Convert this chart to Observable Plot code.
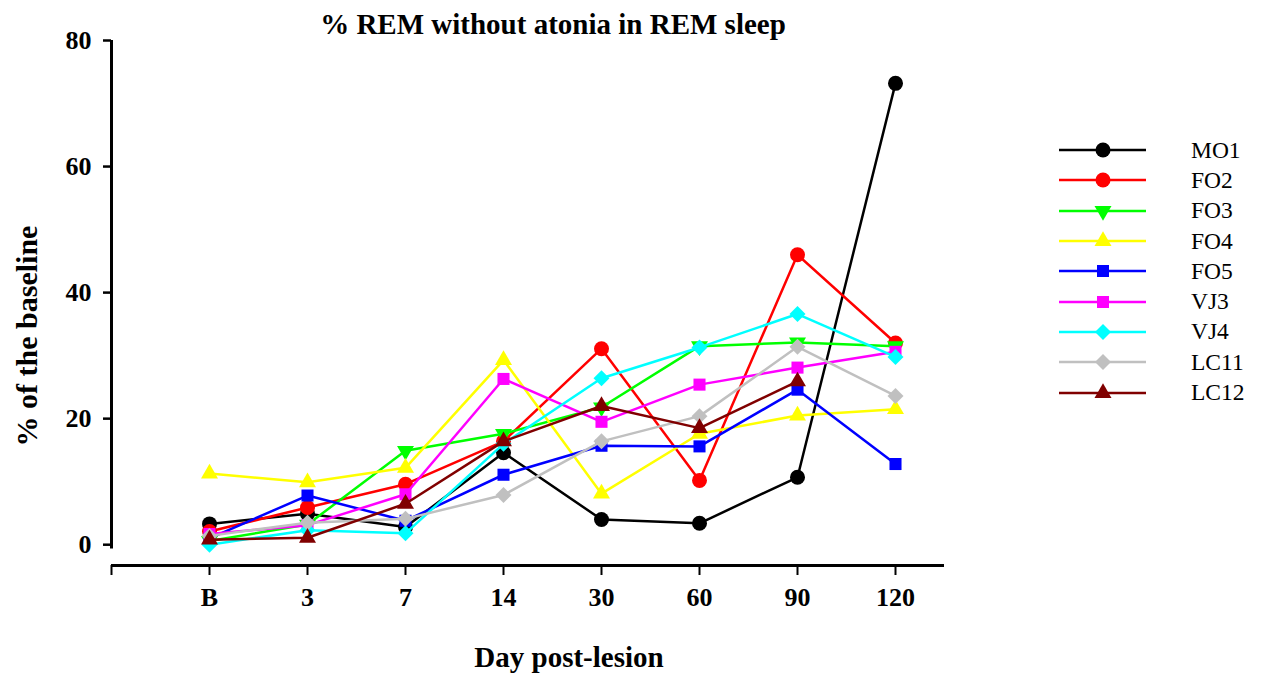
<!DOCTYPE html>
<html>
<head>
<meta charset="utf-8">
<script src="https://cdn.jsdelivr.net/npm/d3@7"></script>
<script src="https://cdn.jsdelivr.net/npm/@observablehq/plot@0.6"></script>
<style>
  html, body { margin: 0; padding: 0; background: #fff; }
  #wrap { position: relative; width: 1261px; height: 673px; font-family: "Liberation Serif", "Times New Roman", serif; }
  #wrap svg { position: absolute; left: 0; top: 0; }
  .lbl { position: absolute; font-weight: bold; font-size: 29px; line-height: 34px; white-space: nowrap; color: #000; }
  #legend { position: absolute; left: 1058px; top: 135px; }
  .row { display: flex; align-items: center; height: 30.3px; }
  .row span { margin-left: 43px; font-size: 23.5px; }
</style>
</head>
<body>
<div id="wrap"></div>
<script>
// ---- data ----
const days = ["B", "3", "7", "14", "30", "60", "90", "120"];
const seriesNames = ["MO1", "FO2", "FO3", "FO4", "FO5", "VJ3", "VJ4", "LC11", "LC12"];
const MO1  = [3.3, 4.9, 2.8, 14.6, 4.0, 3.4, 10.7, 73.2];
const FO2  = [2.1, 5.9, 9.6, 16.4, 31.1, 10.2, 46.0, 32.0];
const FO3  = [0.6, 3.2, 14.9, 17.6, 21.8, 31.5, 32.1, 31.5];
const FO4  = [11.3, 9.9, 12.2, 29.3, 8.1, 17.6, 20.5, 21.5];
const FO5  = [1.0, 7.8, 3.8, 11.1, 15.7, 15.6, 24.6, 12.8];
const VJ3  = [1.7, 3.1, 8.0, 26.3, 19.5, 25.4, 28.1, 30.6];
const VJ4  = [0.0, 2.3, 1.8, 16.0, 26.4, 31.3, 36.6, 29.8];
const LC11 = [1.4, 3.5, 4.1, 7.9, 16.4, 20.4, 31.4, 23.6];
const LC12 = [0.8, 1.1, 6.5, 16.4, 22.0, 18.5, 25.9, null];
const yTicks = [0, 20, 40, 60, 80];
const colors = ["#000000", "#ff0000", "#00ff00", "#ffff00", "#0000ff", "#ff00ff", "#00ffff", "#c0c0c0", "#800000"];
const symbolNames = ["circle", "circle", "triangleDown", "triangle", "square", "square", "diamond2", "diamond2", "triangle"];
const symbolR = { circle: 7.5, triangle: 6.3, triangleDown: 6.3, square: 6.8, diamond2: 7.2 };

const values = [MO1, FO2, FO3, FO4, FO5, VJ3, VJ4, LC11, LC12];

// custom downward triangle
const sqrt3 = Math.sqrt(3);
const triangleDown = {
  draw(context, size) {
    const y = -Math.sqrt(size / (sqrt3 * 3));
    context.moveTo(0, -y * 2);
    context.lineTo(-sqrt3 * y, y);
    context.lineTo(sqrt3 * y, y);
    context.closePath();
  }
};
const symFor = (n) => n === "triangleDown" ? triangleDown : n;

const marks = [];
// axis lines
marks.push(Plot.ruleX([0], { y1: -0.7, y2: 80, stroke: "#000", strokeWidth: 3 }));
marks.push(Plot.ruleY([-3.3], { x1: 0, x2: 8.5, stroke: "#000", strokeWidth: 3 }));
marks.push(Plot.axisY({ ticks: yTicks, tickSize: 8, tickPadding: 12, strokeWidth: 2.5, fontSize: 26, fontWeight: "bold", label: null }));
marks.push(Plot.axisX({ ticks: d3.range(0, 9), tickFormat: (i) => (i >= 1 ? days[i - 1] : ""), tickSize: 10, tickPadding: 12, strokeWidth: 2, fontSize: 26, fontWeight: "bold", label: null }));

seriesNames.forEach((name, s) => {
  const data = days.map((d, i) => ({ x: i + 1, y: values[s][i] })).filter((d) => d.y != null);
  marks.push(Plot.line(data, { x: "x", y: "y", stroke: colors[s], strokeWidth: 2.5 }));
  marks.push(Plot.dot(data, { x: "x", y: "y", fill: colors[s], stroke: "none", symbol: symFor(symbolNames[s]), r: symbolR[symbolNames[s]] }));
});

const chart = Plot.plot({
  width: 1261,
  height: 673,
  marginLeft: 111,
  marginRight: 317,
  marginTop: 40,
  marginBottom: 108,
  x: { type: "linear", domain: [0, 8.5] },
  y: { domain: [-3.3, 80] },
  style: { fontFamily: "'Liberation Serif', 'Times New Roman', serif", fontWeight: "bold", fontSize: "26px", background: "transparent", overflow: "visible" },
  marks
});

const wrap = document.getElementById("wrap");
wrap.appendChild(chart);

// title & axis labels
const title = document.createElement("div");
title.className = "lbl";
title.textContent = "% REM without atonia in REM sleep";
title.style.left = "553px"; title.style.top = "7px"; title.style.transform = "translateX(-50%)";
wrap.appendChild(title);

const xl = document.createElement("div");
xl.className = "lbl";
xl.textContent = "Day post-lesion";
xl.style.left = "569px"; xl.style.top = "640px"; xl.style.transform = "translateX(-50%)";
wrap.appendChild(xl);

const yl = document.createElement("div");
yl.className = "lbl";
yl.style.fontSize = "30px";
yl.textContent = "% of the baseline";
yl.style.left = "27px"; yl.style.top = "336px"; yl.style.transform = "translate(-50%, -50%) rotate(-90deg)";
wrap.appendChild(yl);

// legend
const legend = document.createElement("div");
legend.id = "legend";
seriesNames.forEach((name, s) => {
  const row = document.createElement("div");
  row.className = "row";
  const svg = d3.create("svg").attr("width", 90).attr("height", 24).style("position", "static");
  svg.append("line").attr("x1", 1).attr("x2", 88).attr("y1", 12).attr("y2", 12).attr("stroke", colors[s]).attr("stroke-width", 2.5);
  const sn = symbolNames[s];
  const symType = { circle: d3.symbolCircle, triangle: d3.symbolTriangle, triangleDown: triangleDown, square: d3.symbolSquare, diamond2: d3.symbolDiamond2 }[sn];
  const r = symbolR[sn];
  svg.append("path").attr("transform", "translate(45,12)").attr("d", d3.symbol(symType, Math.PI * r * r)()).attr("fill", colors[s]);
  row.appendChild(svg.node());
  const t = document.createElement("span");
  t.textContent = name;
  row.appendChild(t);
  legend.appendChild(row);
});
wrap.appendChild(legend);
</script>
</body>
</html>
